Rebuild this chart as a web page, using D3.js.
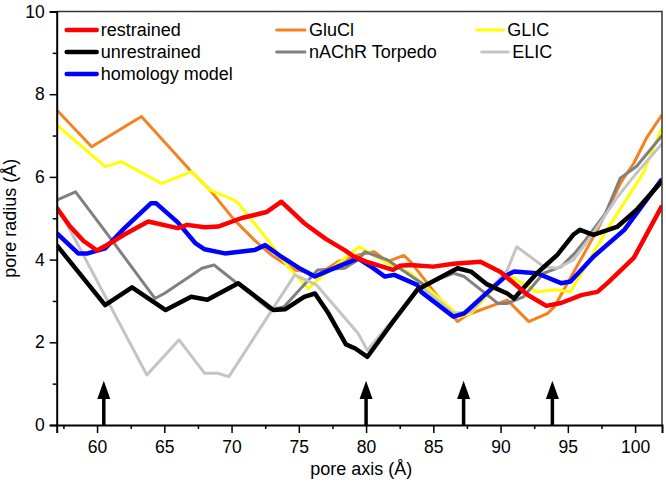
<!DOCTYPE html>
<html>
<head>
<meta charset="utf-8">
<script src="https://cdn.jsdelivr.net/npm/d3@7"></script>
<style>
  body { margin: 0; background: #fff; }
  text { font-family: "Liberation Sans", Arial, sans-serif; }
</style>
</head>
<body>
<div id="chart"></div>
<script>
// pore radius profiles, [pore axis (A), radius (A)]
const restrained = [[57,5.25],[58,4.8],[59,4.45],[60,4.22],[61,4.4],[62,4.6],[63.8,4.92],[66,4.76],[66.7,4.84],[68,4.78],[69,4.8],[70.7,5.0],[72.6,5.15],[73.7,5.4],[75.4,4.88],[77,4.5],[78.4,4.23],[79.1,4.07],[80,3.95],[82,3.75],[82.5,3.85],[83.3,3.87],[85,3.83],[86.5,3.9],[88.5,3.95],[90,3.7],[92,3.15],[93.4,2.88],[94.5,2.95],[96,3.14],[97.2,3.22],[98,3.45],[99.9,4.04],[101,4.7],[102,5.3]];
const unrestrained = [[57,4.35],[60.6,2.9],[62.6,3.33],[65.1,2.78],[67,3.1],[68.2,3.03],[70.5,3.43],[73.1,2.78],[74,2.8],[75.4,3.1],[76.2,3.18],[77.2,2.7],[78.5,1.95],[79.2,1.85],[80.1,1.65],[82,2.5],[83.8,3.27],[86.8,3.79],[87.8,3.71],[89,3.4],[90.5,3.18],[91,3.06],[92.7,3.67],[94.2,4.11],[95.4,4.6],[95.9,4.72],[96.9,4.6],[98.7,4.8],[100.1,5.2],[102,5.9]];
const homology = [[57,4.64],[58.6,4.15],[59.3,4.15],[60.6,4.27],[62,4.75],[64,5.36],[64.4,5.36],[66,4.9],[67.3,4.4],[68,4.25],[69.5,4.15],[71.7,4.23],[72.5,4.35],[73.7,4.07],[75,3.8],[76.2,3.59],[77.9,3.83],[79.4,4.03],[80.5,3.8],[81.4,3.59],[82.1,3.63],[83.8,3.39],[84.1,3.22],[86.5,2.62],[87.3,2.7],[89,3.2],[90.5,3.63],[91,3.71],[92.7,3.67],[94.5,3.43],[95.2,3.47],[96.9,4.07],[99.2,4.72],[102,5.95]];
const glucl = [[57,7.62],[59.6,6.73],[63.3,7.46],[67,6.13],[68.4,5.68],[70.2,4.96],[71.7,4.47],[73,4.1],[74.7,3.75],[75.4,3.71],[76.2,3.59],[77.9,3.95],[79.4,4.11],[80.6,4.19],[81.6,3.95],[82.8,4.1],[83.3,3.95],[86.8,2.5],[87.5,2.66],[90.5,3.02],[92.1,2.5],[93.5,2.7],[94,2.86],[94.7,3.27],[97.2,4.72],[99,5.9],[99.9,6.33],[100.9,6.97],[102,7.5]];
const glic = [[57,7.26],[60.6,6.25],[61.8,6.37],[64.8,5.84],[67,6.13],[68.4,5.68],[70.2,5.44],[70.5,5.36],[72.7,4.47],[74.2,3.83],[75.7,3.3],[76.4,3.51],[79.5,4.31],[81.6,3.91],[83.3,3.67],[87,2.62],[87.8,2.7],[89.5,3.3],[90.5,3.65],[92.7,3.22],[94,3.27],[95.2,3.22],[97.9,4.72],[100.6,6.09],[102,7.2]];
const torpedo = [[57,5.44],[58.4,5.64],[61.1,4.47],[64.3,3.06],[65,3.18],[67.8,3.79],[68.7,3.87],[72.9,2.78],[73.9,2.86],[76.4,3.75],[78.4,3.79],[79.4,3.99],[79.9,4.19],[81.6,3.99],[84.3,3.39],[86.5,3.67],[87.3,3.59],[89.8,2.94],[90.5,2.94],[91.7,3.1],[93.2,3.67],[94.5,3.83],[95.5,4.15],[96.3,4.47],[97.8,5.12],[98.9,5.97],[100.1,6.25],[102,7.0]];
const elic = [[57,5.3],[58.4,4.47],[63.7,1.21],[66.1,2.06],[68,1.25],[69,1.25],[69.8,1.17],[74.7,3.63],[76.3,3.39],[79.4,2.22],[80.1,1.81],[84.1,3.35],[86.5,2.7],[87.8,2.74],[90.5,3.75],[91.2,4.31],[93.2,3.83],[94.2,3.79],[95.4,3.99],[96.7,4.55],[98.7,5.52],[100.1,6.09],[102,6.8]];

const arrowsX = [60.5, 80, 87.25, 93.85];
const xTicks = [60, 65, 70, 75, 80, 85, 90, 95, 100];
const yTicks = [0, 2, 4, 6, 8, 10];

// drawn in this order (thin ones under the thick ones)
const series = [
  { name: "GluCl", data: glucl, color: "#f58220", width: 3 },
  { name: "GLIC", data: glic, color: "#ffff00", width: 3 },
  { name: "nAChR Torpedo", data: torpedo, color: "#808080", width: 3 },
  { name: "ELIC", data: elic, color: "#c4c4c4", width: 3 },
  { name: "homology model", data: homology, color: "#0000ff", width: 4.5 },
  { name: "unrestrained", data: unrestrained, color: "#000000", width: 4.5 },
  { name: "restrained", data: restrained, color: "#ff0000", width: 4.5 }
];

const width = 666, height = 483;
const margin = { left: 56.7, right: 4, top: 11.5, bottom: 58 };

const svg = d3.select("#chart").append("svg")
  .attr("width", width)
  .attr("height", height);

const xScale = d3.scaleLinear().domain([57, 102]).range([margin.left, width - margin.right]);
const yScale = d3.scaleLinear().domain([0, 10]).range([height - margin.bottom, margin.top]);

svg.append("clipPath").attr("id", "plotclip")
  .append("rect")
  .attr("x", xScale(57)).attr("y", yScale(10))
  .attr("width", xScale(102) - xScale(57))
  .attr("height", yScale(0) - yScale(10));

const line = d3.line().x(d => xScale(d[0])).y(d => yScale(d[1]));

const plot = svg.append("g").attr("clip-path", "url(#plotclip)");

series.forEach(function (s) {
  plot.append("path")
    .datum(s.data)
    .attr("d", line)
    .attr("fill", "none")
    .attr("stroke", s.color)
    .attr("stroke-width", s.width)
    .attr("stroke-linejoin", "round");
});

// arrows
arrowsX.forEach(function (a) {
  const x = xScale(a);
  plot.append("line")
    .attr("x1", x).attr("x2", x)
    .attr("y1", yScale(0)).attr("y2", yScale(0.7))
    .attr("stroke", "#000").attr("stroke-width", 3.5);
  plot.append("path")
    .attr("d", `M${x},${yScale(1.07)} L${x - 6.5},${yScale(0.63)} L${x + 6.5},${yScale(0.63)} Z`)
    .attr("fill", "#000");
});

// frame (top / right)
svg.append("path")
  .attr("d", `M${xScale(57)},${yScale(10)} H${xScale(102)} V${yScale(0)}`)
  .attr("fill", "none").attr("stroke", "#333").attr("stroke-width", 1.5);

// x axis
const xAxis = svg.append("g").attr("transform", `translate(0,${yScale(0)})`);
xAxis.call(d3.axisBottom(xScale).tickValues(xTicks).tickSize(8).tickPadding(8).tickFormat(d3.format("d")));
xAxis.append("g").call(d3.axisBottom(xScale)
  .tickValues(d3.range(57.5, 102, 5)).tickSize(4).tickFormat(""));

// y axis
const yAxis = svg.append("g").attr("transform", `translate(${xScale(57)},0)`);
yAxis.call(d3.axisLeft(yScale).tickValues(yTicks).tickSize(7).tickPadding(5));
yAxis.append("g").call(d3.axisLeft(yScale)
  .tickValues([1, 3, 5, 7, 9]).tickSize(4).tickFormat(""));

svg.selectAll(".domain").attr("stroke", "#000").attr("stroke-width", 2);
xAxis.selectAll("g > g .domain").remove();
yAxis.selectAll("g > g .domain").remove();
svg.selectAll(".tick line").attr("stroke", "#000").attr("stroke-width", 1.5);
svg.selectAll(".tick text").attr("font-size", 17.5).attr("fill", "#000")
  .attr("font-family", "'Liberation Sans', Arial, sans-serif");

// axis titles
svg.append("text")
  .attr("x", (xScale(57) + xScale(102)) / 2 + 2)
  .attr("y", 475)
  .attr("text-anchor", "middle")
  .attr("font-size", 18)
  .text("pore axis (Å)");

svg.append("text")
  .attr("transform", `translate(16,${(yScale(0) + yScale(10)) / 2}) rotate(-90)`)
  .attr("text-anchor", "middle")
  .attr("font-size", 18)
  .text("pore radius (Å)");

// legend
const legendItems = [
  { name: "restrained", col: 0, row: 0 },
  { name: "unrestrained", col: 0, row: 1 },
  { name: "homology model", col: 0, row: 2 },
  { name: "GluCl", col: 1, row: 0 },
  { name: "nAChR Torpedo", col: 1, row: 1 },
  { name: "GLIC", col: 2, row: 0 },
  { name: "ELIC", col: 2, row: 1 }
];
const legendCols = [{ x1: 66.7, x2: 96.7 }, { x1: 276.7, x2: 305 }, { x1: 476.7, x2: 503.3 }];
const legendRows = [30, 52, 74];

legendItems.forEach(function (d) {
  const s = series.find(e => e.name === d.name);
  let c = legendCols[d.col];
  let shift = (d.name === "ELIC") ? 5 : 0;
  const y = legendRows[d.row];
  svg.append("line")
    .attr("x1", c.x1 + shift).attr("x2", c.x2 + shift)
    .attr("y1", y).attr("y2", y)
    .attr("stroke", s.color)
    .attr("stroke-width", s.width)
    .attr("stroke-linecap", "round");
  svg.append("text")
    .attr("x", c.x2 + shift + 4)
    .attr("y", y + 6)
    .attr("font-size", 18)
    .text(d.name);
});
</script>
</body>
</html>
